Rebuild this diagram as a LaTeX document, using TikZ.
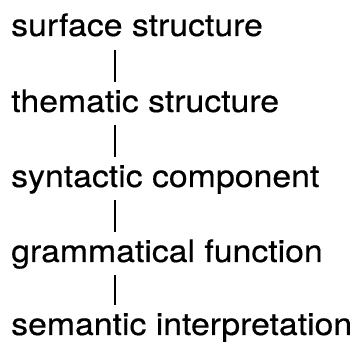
\documentclass[tikz,border=0pt]{standalone}
\usepackage{fontspec}
\setmainfont{TeX Gyre Heros}[FakeStretch=1.09,FakeBold=0.4]
\usetikzlibrary{calc}
\begin{document}
\begin{tikzpicture}[x=1pt,y=-1pt,
  lbl/.style={anchor=base west,inner sep=0pt,font=\fontsize{31}{38}\selectfont},
  link/.style={line width=2.2pt}]
\useasboundingbox (0,0) rectangle (356,344);
\coordinate (lx) at (115,0);
\node[lbl] (a) at (11,36) {surface structure};
\node[lbl] (b) at (11,112) {thematic structure};
\node[lbl] (c) at (11,187) {syntactic component};
\node[lbl] (d) at (11,262) {grammatical function};
\node[lbl] (e) at (11,335) {semantic interpretation};
\draw[link] ($(a.base -| lx)+(0,14)$) -- ($(b.base -| lx)+(0,-30)$);
\draw[link] ($(b.base -| lx)+(0,13)$) -- ($(c.base -| lx)+(0,-30)$);
\draw[link] ($(c.base -| lx)+(0,13)$) -- ($(d.base -| lx)+(0,-30)$);
\draw[link] ($(d.base -| lx)+(0,13)$) -- ($(e.base -| lx)+(0,-30)$);
\end{tikzpicture}
\end{document}
